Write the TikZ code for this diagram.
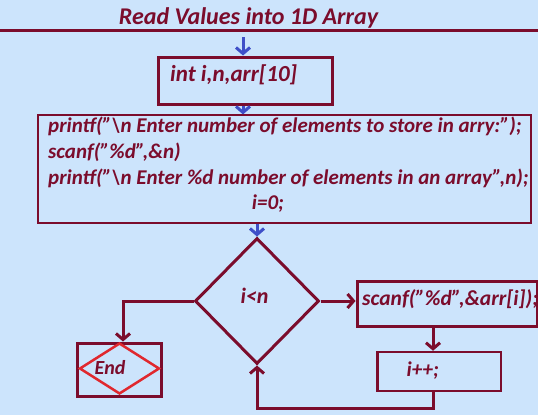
\documentclass[tikz,border=0pt]{standalone}
\usepackage{fontspec}
\setmainfont{Carlito}
\usetikzlibrary{shapes.geometric,arrows.meta,calc}
\definecolor{bg}{HTML}{CCE4FC}
\definecolor{dred}{HTML}{7B0C2C}
\definecolor{barr}{HTML}{3F4FC8}
\definecolor{rdia}{HTML}{E0282E}
\begin{document}
\begin{tikzpicture}[x=1pt,y=-1pt,
  txt/.style={text=dred,inner sep=0pt,anchor=base},
  fs/.style={font=\bfseries\itshape\fontsize{#1}{#1}\selectfont},
  box/.style={draw=dred,line width=3pt,rectangle,inner sep=0pt},
  conn/.style={draw=dred,line width=3pt,-{Straight Barb[length=6pt,width=14pt]}},
  barrow/.style={draw=barr,line width=3pt,-{Straight Barb[length=6pt,width=14pt]}}]
\fill[bg] (0,0) rectangle (538,415);
\useasboundingbox (0,0) rectangle (538,415);
% title and rule
\node[txt,fs=24] (title) at (248.5,24) {Read Values into 1D Array};
\coordinate (r1) at (0,30);
\coordinate (r2) at (538,30);
\draw[dred,line width=3pt] (r1) -- (r2);
% boxes
\node[box,minimum width=174pt,minimum height=47pt] (box1) at (245,80.5) {};
\node[txt,fs=23,anchor=base west] (t1) at (170,81) {int i,n,arr[10]};
\node[box,line width=1.2pt,minimum width=493pt,minimum height=108pt] (box2) at (284.5,169) {};
\node[txt,fs=21,anchor=base west] (l1) at (48,132) {printf("\textbackslash n Enter number of elements to store in arry:");};
\node[txt,fs=21,anchor=base west] (l2) at (48,158) {scanf("\%d",\&n)};
\node[txt,fs=21,anchor=base west] (l3) at (48,184) {printf("\textbackslash n Enter \%d number of elements in an array",n);};
\node[txt,fs=21] (l4) at (268,209) {i=0;};
\node[diamond,draw=dred,line width=3pt,minimum width=124pt,minimum height=126pt,inner sep=0pt] (dia) at (257,301) {};
\node[txt,fs=22] (cond) at (254.5,303) {i<n};
\node[box,minimum width=180pt,minimum height=45pt] (scan) at (447,303.5) {};
\node[txt,fs=21.5,anchor=base west] (st) at (362,305) {scanf("\%d",\&arr[i]);};
\node[box,line width=2.5pt,minimum width=123.5pt,minimum height=39pt] (ipp) at (439,371.5) {};
\node[txt,fs=21,anchor=base west] (it) at (406.5,376) {i++;};
\node[box,minimum width=84pt,minimum height=53pt] (endbox) at (119,369.5) {};
\node[diamond,draw=rdia,line width=2.5pt,minimum width=80pt,minimum height=51pt,inner sep=0pt] (enddia) at (119.5,368.5) {};
\node[txt,fs=20,anchor=base west] (et) at (94.5,374) {End};
% connectors
\coordinate (s1) at (243,37);
\draw[barrow] (s1) -- (box1.north -| s1);
\draw[barrow] (box1.south -| s1) -- (box2.north -| s1);
\draw[barrow] (box2.south -| dia.north) -- (dia.north);
\draw[conn] (dia.east) -- (dia.east -| scan.west);
\draw[conn] ([xshift=-6pt]ipp.north |- scan.south) -- ([xshift=-6pt]ipp.north);
\draw[conn] ([xshift=-6pt]ipp.south) -- ++(0,16) -| (dia.south);
\draw[conn] (dia.west) -| ([xshift=4pt]endbox.north);
\end{tikzpicture}
\end{document}
